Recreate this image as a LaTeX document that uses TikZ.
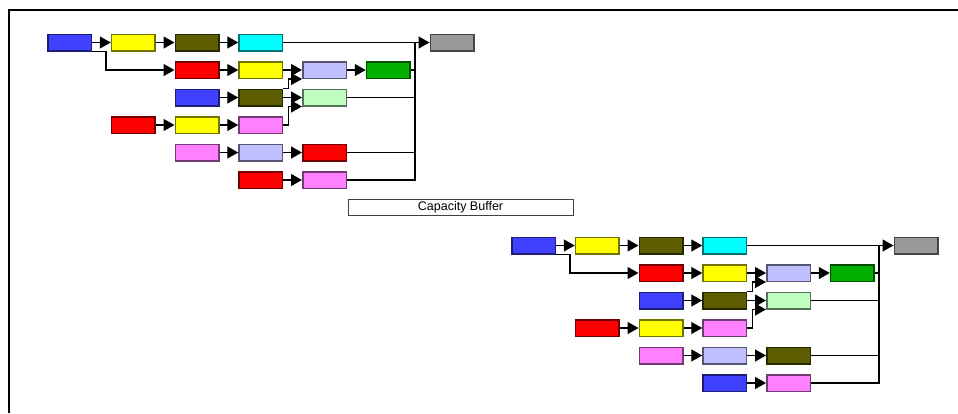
\documentclass[tikz,border=0pt]{standalone}
\usepackage{fontspec}
\setmainfont{Liberation Sans}
\usetikzlibrary{arrows.meta}
\definecolor{cblue}{HTML}{4040FF}
\definecolor{cyel}{HTML}{FFFF00}
\definecolor{colive}{HTML}{5C5C00}
\definecolor{ccyan}{HTML}{00FFFF}
\definecolor{cgray}{HTML}{999999}
\definecolor{cred}{HTML}{FF0000}
\definecolor{clav}{HTML}{C0C0FF}
\definecolor{cgreen}{HTML}{00B000}
\definecolor{clgreen}{HTML}{C0FFC0}
\definecolor{cpink}{HTML}{FF80FF}
\tikzset{
  bx/.style={draw=#1!45!black, fill=#1, line width=1.5pt, minimum width=43.5pt, minimum height=16.5pt, inner sep=0pt},
  arr/.style={line width=1.3pt, -{Triangle[length=11pt,width=12pt]}},
  ln/.style={line width=1.3pt},
  framepen/.style={line width=1.8pt},
}
\newcommand\flowcopy[4]{%
\begin{scope}[shift={#2}, name prefix=#1-]
  % row 1
  \node[bx=cblue]  (b11) at (69.5,42.5) {};
  \node[bx=cyel]   (b12) at (133.25,42.5) {};
  \node[bx=colive] (b13) at (197,42.5) {};
  \node[bx=ccyan]  (b14) at (260.75,42.5) {};
  \node[bx=cgray]  (b17) at (452,42.5) {};
  % row 2
  \node[bx=cred]   (b23) at (197,70) {};
  \node[bx=cyel]   (b24) at (260.75,70) {};
  \node[bx=clav]   (b25) at (324.5,70) {};
  \node[bx=cgreen] (b26) at (388.25,70) {};
  % row 3
  \node[bx=cblue]  (b33) at (197,97.5) {};
  \node[bx=colive] (b34) at (260.75,97.5) {};
  \node[bx=clgreen](b35) at (324.5,97.5) {};
  % row 4
  \node[bx=cred]   (b42) at (133.25,125) {};
  \node[bx=cyel]   (b43) at (197,125) {};
  \node[bx=cpink]  (b44) at (260.75,125) {};
  % row 5
  \node[bx=cpink]  (b53) at (197,152.5) {};
  \node[bx=clav]   (b54) at (260.75,152.5) {};
  \node[bx=#3]     (b55) at (324.5,152.5) {};
  % row 6
  \node[bx=#4]     (b64) at (260.75,180) {};
  \node[bx=cpink]  (b65) at (324.5,180) {};
  % bus
  \coordinate (bt) at (415,42.5);
  \coordinate (bb) at (415,180);
  % connectors
  \draw[arr] (b11) -- (b12);
  \draw[arr] (b12) -- (b13);
  \draw[arr] (b13) -- (b14);
  \draw[arr] (b14) -- (b17);
  \draw[arr] (b11.south east) -- ++(14,0) |- (b23);
  \draw[arr] (b23) -- (b24);
  \draw[arr] (b24) -- (b25);
  \draw[arr] (b25) -- (b26);
  \draw[arr] (b33) -- (b34);
  \draw[arr] (b34) -- (b35);
  \draw[arr] (b34.north east) -- ++(5,0) |- (b25.south west);
  \draw[arr] (b42) -- (b43);
  \draw[arr] (b43) -- (b44);
  \draw[arr] (b44.east) -- ++(5,0) |- (b35.south west);
  \draw[arr] (b53) -- (b54);
  \draw[arr] (b54) -- (b55);
  \draw[arr] (b64) -- (b65);
  \draw[ln] (b65) -- (bb) -- (bt);
  \draw[ln] (b26) -- (b26 -| bt);
  \draw[ln] (b35) -- (b35 -| bt);
  \draw[ln] (b55) -- (b55 -| bt);
\end{scope}}
\begin{document}
\begin{tikzpicture}[x=1pt,y=-1pt]
  \useasboundingbox (0,0) rectangle (958,413);
  \fill[white] (0,0) rectangle (958,413);
  \coordinate (fbl) at (9,413);
  \coordinate (ftl) at (9,10);
  \coordinate (ftr) at (958,10);
  \draw[framepen] (fbl) -- (ftl) -- (ftr);
  \flowcopy{top}{(0,0)}{cred}{cred}
  \flowcopy{bot}{(464,203)}{colive}{cblue}
  \node[draw=black!75, line width=1pt, minimum width=225pt, minimum height=16pt, inner sep=0pt, font=\fontsize{12.5}{14}\selectfont] (cb) at (460.5,207) {Capacity Buffer};
\end{tikzpicture}
\end{document}
